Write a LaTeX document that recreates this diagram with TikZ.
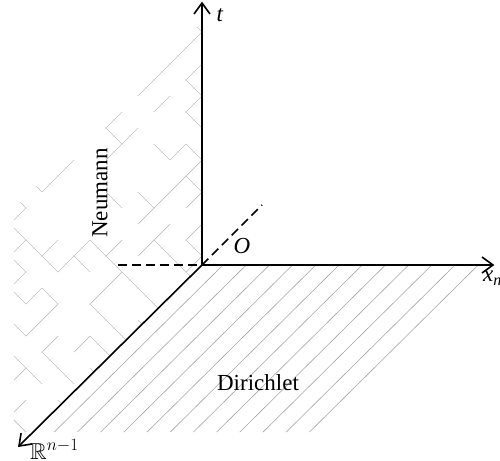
\documentclass[tikz,border=0pt]{standalone}
\usepackage{fontspec}
\setmainfont{Liberation Serif}
\usepackage{amssymb}
\tikzset{
  axis/.style={line width=1.6pt},
  head/.style={line width=1.6pt,line join=miter},
  dashline/.style={line width=1.5pt,dash pattern=on 9pt off 5pt},
  hatch/.style={gray!70,line width=0.6pt},
  brick/.style={gray!50,line width=0.7pt},
  lbl/.style={inner sep=0pt,font=\fontsize{23}{26}\selectfont}
}
\begin{document}
\begin{tikzpicture}[x=1pt,y=-1pt]
\useasboundingbox (0,0) rectangle (500,460);
% Dirichlet hatch
\begin{scope}
  \clip (202,265) -- (480,265) -- (313,432) -- (35,432) -- cycle;
  \foreach \k in {0,...,11}{
    \draw[hatch] ({223+23.2*\k},265) -- ++(-200,198);
  }
\end{scope}
% Neumann pattern
\begin{scope}
  \clip (202,265) -- (202,22) -- (14,208) -- (14,448) -- cycle;
  \pgfmathsetseed{98765}
  \foreach \i in {0,...,13}{
    \foreach \j in {0,...,29}{
      \pgfmathtruncatemacro{\parity}{mod(\i+\j,2)}
      \ifnum\parity=0
        \pgfmathsetmacro{\xx}{10+16*\i}
        \pgfmathsetmacro{\yy}{16*\j}
        \ifnum\i=0 \def\pp{70}\else\ifnum\i=11 \def\pp{70}\else\ifnum\i=12 \def\pp{75}\else\def\pp{30}\fi\fi\fi
        \pgfmathrandominteger{\ra}{0}{99}
        \ifnum\ra<\pp \draw[brick] (\xx,\yy) -- ++(16,16);\fi
        \pgfmathrandominteger{\rb}{0}{99}
        \ifnum\rb<\pp \draw[brick] (\xx,\yy) -- ++(16,-16);\fi
      \fi
    }
  }
\end{scope}
% dashed lines
\coordinate (O) at (202,265);
\coordinate (dl) at (118,265);
\coordinate (dd) at (262,205);
\draw[dashline] (dl) -- (O);
\draw[dashline] (O) -- (dd);
% axes
\coordinate (T) at (202,3);
\coordinate (X) at (493,265);
\coordinate (R) at (19,446);
\draw[axis] (O) -- (T);
\draw[axis] (O) -- (X);
\draw[axis] (O) -- (R);
% arrow heads (open barbs)
\draw[head] (T) ++(-8,11) -- (T) -- ++(8,11);
\draw[head] (X) ++(-11,-8) -- (X) -- ++(-11,8);
\draw[head] (R) ++(-8.8:13) -- (R) -- ++(-80.8:13);
% labels
\node[lbl] (tl) at (220,15) {\textit{t}};
\node[lbl] (ol) at (242,246) {\textit{O}};
\node[lbl,anchor=west] (xl) at (483,278) {\textit{x}\textsubscript{\textit{n}}};
\node[lbl,anchor=south west] (rl) at (30,460) {$\mathbb{R}^{n-1}$};
\node[lbl,rotate=90] (nl) at (100,193) {Neumann};
\node[lbl] (dlb) at (258,383) {Dirichlet};
\end{tikzpicture}
\end{document}
